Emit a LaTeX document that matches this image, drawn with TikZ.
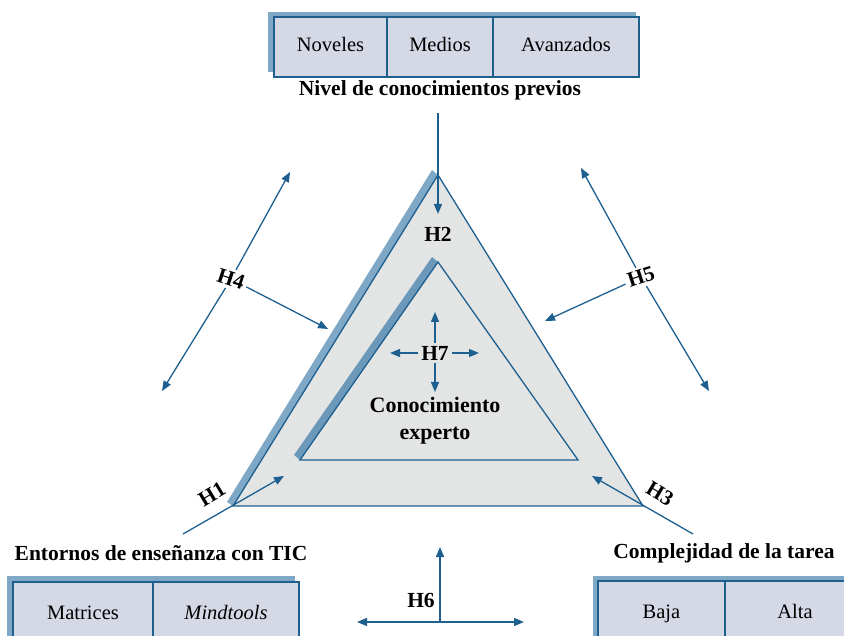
\documentclass[tikz,border=0pt]{standalone}
\usepackage{fontspec}
\setmainfont{Liberation Serif}
\usetikzlibrary{arrows.meta}
\definecolor{lineblue}{HTML}{1D5F8F}
\definecolor{boxfill}{HTML}{D5D9E6}
\definecolor{shadowblue}{HTML}{7EA8C6}
\definecolor{darkshadow}{HTML}{6C98BA}
\definecolor{trifill}{HTML}{E3E5E5}
\tikzset{
  cell/.style={draw=lineblue, line width=1.4pt, fill=boxfill, inner sep=0pt, text height=14pt, text depth=4pt, font=\fontsize{20.5}{22}\selectfont},
  lbl/.style={font=\bfseries\fontsize{21.5}{24}\selectfont, inner sep=2pt},
  hlbl/.style={font=\bfseries\fontsize{21.5}{24}\selectfont, inner sep=3pt},
  arr/.style={draw=lineblue, line width=1.3pt, -{Triangle[length=10pt,width=8pt]}},
  darr/.style={draw=lineblue, line width=1.3pt, {Triangle[length=10pt,width=8pt]}-{Triangle[length=10pt,width=8pt]}},
}
\begin{document}
\begin{tikzpicture}[x=1pt,y=-1pt]
\useasboundingbox (0,0) rectangle (844,636);
\begin{scope}
\clip (0,0) rectangle (844,636);
% top box
\fill[shadowblue] (268,12) rectangle (636,72);
\node[cell, minimum width=113pt, minimum height=60pt] (nov) at (330.5,47) {Noveles};
\node[cell, minimum width=106pt, minimum height=60pt] (med) at (440,47) {Medios};
\node[cell, minimum width=146pt, minimum height=60pt] (ava) at (566,47) {Avanzados};
% bottom-left box
\fill[shadowblue] (7,576) rectangle (295,650);
\node[cell, minimum width=140pt, minimum height=64pt] (mat) at (83,614) {Matrices};
\node[cell, minimum width=146pt, minimum height=64pt] (mind) at (226,614) {\itshape Mindtools};
% bottom-right box
\fill[shadowblue] (593,576) rectangle (870,650);
\node[cell, minimum width=127pt, minimum height=64pt] (baja) at (661.5,613) {Baja};
\node[cell, minimum width=140pt, minimum height=64pt] (alta) at (795,613) {Alta};
\end{scope}

% labels
\node[lbl] (nivel) at (440,90) {Nivel de conocimientos previos};
\node[lbl] (entornos) at (161,553) {Entornos de enseñanza con TIC};
\node[lbl] (compl) at (724,553) {Complejidad de la tarea};

% outer triangle
\fill[shadowblue] (233,506) -- (438,175) -- (432,170) -- (227,502) -- cycle;
\filldraw[fill=trifill, draw=lineblue, line width=1.3pt] (233,506) -- (438,175) -- (643,506) -- cycle;
% inner triangle
\fill[darkshadow] (300,460) -- (438,262) -- (432,257) -- (294,455) -- cycle;
\filldraw[fill=trifill, draw=lineblue, line width=1.3pt] (300,460) -- (438,262) -- (578,460) -- cycle;

% H2
\coordinate (h2top) at (438,113);
\coordinate (h2tip) at (438,214);
\draw[arr] (h2top) -- (h2tip);
\node[hlbl] (h2) at (438,234) {H2};

% H7
\node[hlbl] (h7) at (435,353) {H7};
\coordinate (h7u) at (435,312);
\coordinate (h7d) at (435,392);
\coordinate (h7l) at (390,353);
\coordinate (h7r) at (479,353);
\draw[arr] (h7) -- (h7u);
\draw[arr] (h7) -- (h7d);
\draw[arr] (h7) -- (h7l);
\draw[arr] (h7) -- (h7r);
\node[lbl, align=center, font=\bfseries\fontsize{22}{27}\selectfont] (exp) at (435,421) {Conocimiento\\experto};

% H4
\node[hlbl, rotate=-18] (h4) at (231,279) {H4};
\coordinate (h4a) at (290,172);
\coordinate (h4b) at (162,391);
\coordinate (h4t) at (328,329);
\draw[arr] (h4) -- (h4a);
\draw[arr] (h4) -- (h4b);
\draw[arr] (h4) -- (h4t);

% H5
\node[hlbl, rotate=18] (h5) at (641,277) {H5};
\coordinate (h5a) at (581,168);
\coordinate (h5b) at (709,391);
\coordinate (h5t) at (545,321);
\draw[arr] (h5) -- (h5a);
\draw[arr] (h5) -- (h5b);
\draw[arr] (h5) -- (h5t);

% H1
\node[hlbl, rotate=31] (h1) at (212,494) {H1};
\coordinate (h1s) at (183,534);
\coordinate (h1t) at (284,476);
\draw[arr] (h1s) -- (h1t);

% H3
\node[hlbl, rotate=-31] (h3) at (660,494) {H3};
\coordinate (h3s) at (693,534);
\coordinate (h3t) at (592,476);
\draw[arr] (h3s) -- (h3t);

% H6
\coordinate (h6c) at (440,622);
\coordinate (h6u) at (440,547);
\coordinate (h6l) at (357,622);
\coordinate (h6r) at (524,622);
\draw[arr] (h6c) -- (h6u);
\draw[darr] (h6l) -- (h6r);
\node[hlbl] (h6) at (421,600) {H6};
\end{tikzpicture}
\end{document}
